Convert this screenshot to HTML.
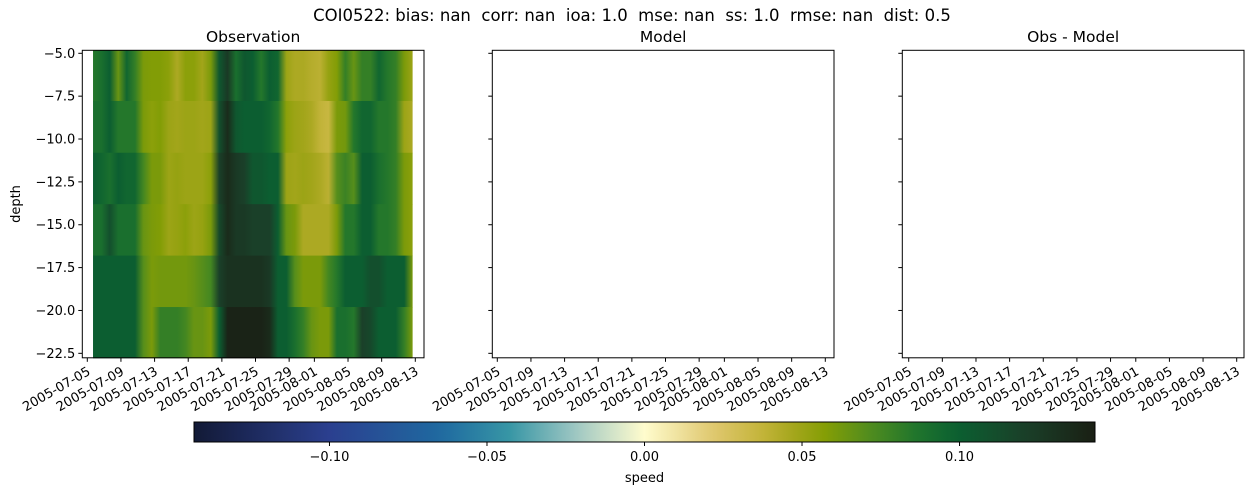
<!DOCTYPE html>
<html><head><meta charset="utf-8"><style>
html,body{margin:0;padding:0;background:#fff;}
svg{display:block;font-family:"DejaVu Sans","Liberation Sans",sans-serif;}
svg text{white-space:pre;}
</style></head><body>
<svg id="fig" width="1254" height="495" viewBox="0 0 1254 495" xmlns="http://www.w3.org/2000/svg">
<text x="632" y="21" text-anchor="middle" font-size="16.5">COI0522: bias: nan  corr: nan  ioa: 1.0  mse: nan  ss: 1.0  rmse: nan  dist: 0.5</text>
</svg>
<script>
// ---- data ----
const tickDates = ["2005-07-05","2005-07-09","2005-07-13","2005-07-17","2005-07-21","2005-07-25","2005-07-29","2005-08-01","2005-08-05","2005-08-09","2005-08-13"];
const yTicks = [-5.0,-7.5,-10.0,-12.5,-15.0,-17.5,-20.0,-22.5];
const yTickLabels = ["\u22125.0","\u22127.5","\u221210.0","\u221212.5","\u221215.0","\u221217.5","\u221220.0","\u221222.5"];
const rowEdges = [-4.82,-7.78,-10.8,-13.8,-16.8,-19.8,-22.79];
const startDay = 0.68; // days after 2005-07-05
const row1 = [0.085,0.09,0.10,0.065,0.095,0.08,0.06,0.058,0.058,0.055,0.045,0.055,0.055,0.048,0.06,0.105,0.125,0.09,0.105,0.10,0.085,0.10,0.095,0.05,0.045,0.045,0.042,0.04,0.052,0.058,0.08,0.065,0.08,0.08,0.095,0.085,0.08,0.06,0.05];
const row2 = [0.09,0.09,0.10,0.085,0.085,0.085,0.06,0.055,0.058,0.05,0.048,0.05,0.05,0.048,0.05,0.11,0.135,0.105,0.10,0.10,0.10,0.095,0.085,0.055,0.05,0.048,0.045,0.038,0.035,0.06,0.062,0.085,0.095,0.095,0.085,0.085,0.08,0.05,0.045];
const row3 = [0.10,0.095,0.09,0.10,0.095,0.095,0.075,0.06,0.06,0.05,0.052,0.05,0.05,0.05,0.055,0.12,0.135,0.125,0.12,0.105,0.105,0.10,0.10,0.05,0.048,0.05,0.048,0.045,0.04,0.07,0.078,0.07,0.10,0.10,0.09,0.085,0.08,0.06,0.055];
const row4 = [0.09,0.09,0.11,0.09,0.09,0.09,0.065,0.06,0.058,0.05,0.052,0.055,0.05,0.052,0.06,0.115,0.135,0.125,0.125,0.12,0.12,0.12,0.10,0.065,0.06,0.045,0.045,0.045,0.045,0.06,0.085,0.085,0.10,0.10,0.085,0.085,0.08,0.06,0.055];
const row5 = [0.10,0.10,0.10,0.10,0.10,0.10,0.07,0.06,0.062,0.062,0.062,0.062,0.065,0.07,0.075,0.12,0.13,0.13,0.13,0.13,0.13,0.125,0.10,0.10,0.07,0.06,0.06,0.06,0.075,0.085,0.10,0.10,0.10,0.11,0.11,0.10,0.10,0.10,0.06];
const row6 = [0.10,0.10,0.10,0.10,0.10,0.10,0.07,0.06,0.08,0.08,0.08,0.075,0.065,0.065,0.06,0.10,0.14,0.14,0.14,0.14,0.14,0.135,0.10,0.10,0.09,0.08,0.065,0.06,0.06,0.09,0.09,0.085,0.12,0.115,0.10,0.10,0.10,0.08,0.06];
const cbTicks = [-0.10,-0.05,0.00,0.05,0.10];
const cbTickLabels = ["\u22120.10","\u22120.05","0.00","0.05","0.10"];
const vmin = -0.143, vmax = 0.143;
</script>
<script>
const rows=[row1,row2,row3,row4,row5,row6];
const NS="http://www.w3.org/2000/svg";
const svg=document.getElementById('fig');
function mk(tag,attrs,parent){const e=document.createElementNS(NS,tag);for(const k in attrs)e.setAttribute(k,attrs[k]);(parent||svg).appendChild(e);return e;}
const cmap=[[-1,[18,26,54]],[-0.7,[43,63,143]],[-0.45,[31,106,160]],[-0.3,[55,150,165]],[-0.15,[160,200,195]],[0,[255,252,205]],[0.15,[224,200,112]],[0.26,[196,180,58]],[0.33,[165,166,28]],[0.4,[133,158,5]],[0.5,[80,140,30]],[0.6,[33,118,44]],[0.69,[11,96,49]],[0.84,[26,64,41]],[1,[26,31,20]]];
function color(v){let t=v/vmax; if(v<0)t=v/(-vmin); t=Math.max(-1,Math.min(1,t));
 for(let i=0;i<cmap.length-1;i++){const a=cmap[i],b=cmap[i+1];if(t>=a[0]&&t<=b[0]){const f=(t-a[0])/(b[0]-a[0]);const c=a[1].map((x,j)=>Math.round(x+(b[1][j]-x)*f));return `rgb(${c[0]},${c[1]},${c[2]})`;}}return 'rgb(26,31,20)';}
const dayMs=86400000, d0=Date.UTC(2005,6,5);
function dayOf(s){const p=s.split('-');return (Date.UTC(+p[0],+p[1]-1,+p[2])-d0)/dayMs;}
const pxPerDay=328/39;
const panels=[{name:'observation',title:'Observation',left:82.3,off:5.0,ylab:true,data:true},{name:'model',title:'Model',left:492.3,off:5.0,ylab:false,data:false},{name:'obs-minus-model',title:'Obs - Model',left:902.3,off:6.4,ylab:false,data:false}];
const axTop=50.3,axBottom=357.8,axW=341.7;
const yScale=d=>53.3+(-5-d)*(42.86/2.5);
const defs=mk('defs',{});
panels.forEach((p,pi)=>{
 const g=mk('g',{});
 
 
 const xS=day=>p.left+p.off+day*pxPerDay;
 if(p.data){
  rows.forEach((r,ri)=>{
   const gid='grad'+ri;
   const lg=mk('linearGradient',{id:gid,gradientUnits:'userSpaceOnUse',x1:xS(startDay),x2:xS(startDay+r.length-1),y1:0,y2:0},defs);
   r.forEach((v,i)=>{mk('stop',{offset:(i/(r.length-1)).toFixed(4),'stop-color':color(v)},lg);});
   const y1=yScale(rowEdges[ri]),y2=yScale(rowEdges[ri+1]);
   const rc=mk('rect',{x:xS(startDay),y:Math.max(axTop,y1),width:xS(startDay+r.length-1)-xS(startDay),height:Math.min(axBottom,y2)-Math.max(axTop,y1)+0.5,fill:'url(#'+gid+')'},g);
   
   
  });
 }
 const fr=mk('rect',{x:p.left,y:axTop,width:axW,height:axBottom-axTop,fill:'none',stroke:'#000','stroke-width':1},g);
 
 
 const t=mk('text',{x:p.left+axW/2,y:42,'text-anchor':'middle','font-size':15.5},g);t.textContent=p.title;
 
 
 yTicks.forEach((v,i)=>{const y=yScale(v);mk('line',{x1:p.left-4,x2:p.left,y1:y,y2:y,stroke:'#000'},g);
  if(p.ylab){const tl=mk('text',{x:p.left-7,y:y+4.5,'text-anchor':'end','font-size':13},g);tl.textContent=yTickLabels[i];
   
   }});
 tickDates.forEach(s=>{const x=xS(dayOf(s));mk('line',{x1:x,x2:x,y1:axBottom,y2:axBottom+4,stroke:'#000'},g);
  const tl=mk('text',{'text-anchor':'end','font-size':13,transform:`translate(${x+4},${axBottom+16}) rotate(-30)`},g);tl.textContent=s;
  
  });
});
const yl=mk('text',{'text-anchor':'middle','font-size':13,transform:'translate(20,204) rotate(-90)'});yl.textContent='depth';


const cbL=194,cbR=1095,cbT=422,cbB=442;
const cbx=v=>cbL+(v-vmin)/(vmax-vmin)*(cbR-cbL);
const cg=mk('linearGradient',{id:'cbgrad',x1:0,x2:1,y1:0,y2:0},defs);
for(let i=0;i<=60;i++){const v=vmin+(vmax-vmin)*i/60;mk('stop',{offset:(i/60).toFixed(4),'stop-color':color(v)},cg);}
const cbg=mk('g',{});


mk('rect',{x:cbL,y:cbT,width:cbR-cbL,height:cbB-cbT,fill:'url(#cbgrad)',stroke:'#000','stroke-width':1},cbg);
cbTicks.forEach((v,i)=>{const x=cbx(v);mk('line',{x1:x,x2:x,y1:cbB,y2:cbB+4,stroke:'#000'},cbg);
 const tl=mk('text',{x:x,y:cbB+19,'text-anchor':'middle','font-size':13},cbg);tl.textContent=cbTickLabels[i];
 
 });
const sl=mk('text',{x:(cbL+cbR)/2,y:482,'text-anchor':'middle','font-size':13},cbg);sl.textContent='speed';


</script>
</body></html>
